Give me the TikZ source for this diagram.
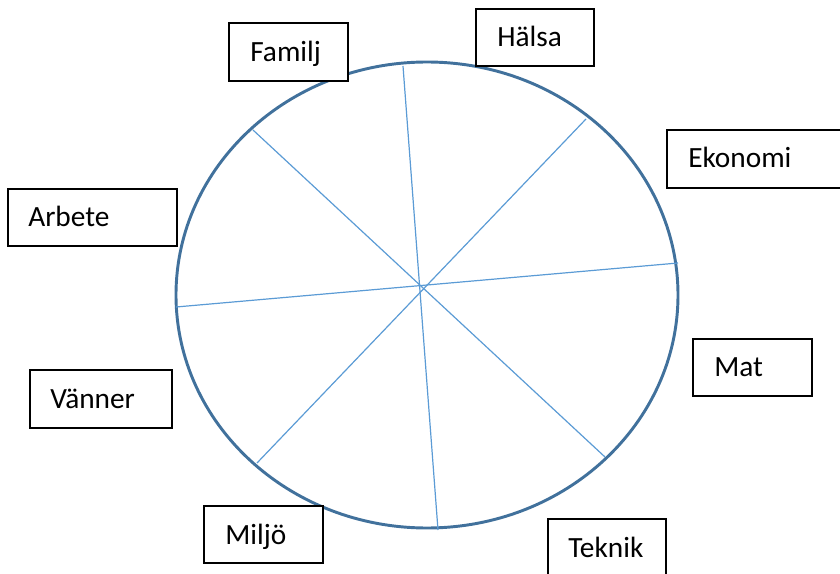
\documentclass[tikz,border=0pt]{standalone}
\usepackage{fontspec}
\usetikzlibrary{shapes.geometric}
\setmainfont{Carlito}
\definecolor{ringblue}{HTML}{41719C}
\definecolor{spokeblue}{HTML}{5B9BD5}
\begin{document}
\begin{tikzpicture}[x=0.75pt,y=-0.75pt,
  ring/.style={draw=ringblue,line width=2.2pt},
  spoke/.style={draw=spokeblue,line width=0.9pt},
  lbox/.style={draw=black,line width=1.1pt,fill=white},
  ltext/.style={anchor=base west,inner sep=0pt,font=\fontsize{22}{26}\selectfont}]
\useasboundingbox (0,0) rectangle (840,574);
% ring
\node[ring,ellipse,minimum width=376.5pt,minimum height=349.5pt,inner sep=0pt] (ring) at (427,295) {};
% spokes
\coordinate (v1) at (403,66); \coordinate (v2) at (438,530);
\coordinate (h1) at (678,263); \coordinate (h2) at (176,307);
\coordinate (d1) at (586,119); \coordinate (d2) at (257,463);
\coordinate (e1) at (253,130); \coordinate (e2) at (605,457);
\draw[spoke] (v1) -- (v2);
\draw[spoke] (h1) -- (h2);
\draw[spoke] (d1) -- (d2);
\draw[spoke] (e1) -- (e2);
% boxes
\draw[lbox] (229,23) rectangle (348,81); \node[ltext] (familj) at (250,62) {Familj};
\draw[lbox] (476,9) rectangle (594,66); \node[ltext] (halsa) at (497,47) {Hälsa};
\draw[lbox] (667,130) rectangle (842,188); \node[ltext] (ekonomi) at (688,168) {Ekonomi};
\draw[lbox] (8,189) rectangle (177,246); \node[ltext] (arbete) at (28,227) {Arbete};
\draw[lbox] (693,339) rectangle (812,396); \node[ltext] (mat) at (714,377) {Mat};
\draw[lbox] (30,370) rectangle (172,428); \node[ltext] (vanner) at (50,408) {Vänner};
\draw[lbox] (204,506) rectangle (323,563); \node[ltext] (miljo) at (225,544) {Miljö};
\draw[lbox] (548,519) rectangle (666,578); \node[ltext] (teknik) at (568,557) {Teknik};
\end{tikzpicture}
\end{document}
